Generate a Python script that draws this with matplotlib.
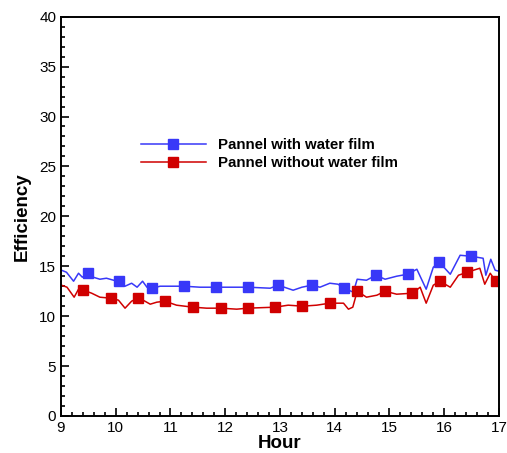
import numpy as np
import matplotlib
matplotlib.use("Agg")
import matplotlib.pyplot as plt
from matplotlib.ticker import MultipleLocator

plt.rcParams['font.family'] = ['Liberation Sans', 'DejaVu Sans']

# panel with water film
hour_wet = [9.01, 9.10, 9.23, 9.32, 9.39, 9.49, 9.59, 9.71, 9.83, 9.96, 10.06,
            10.17, 10.29, 10.39, 10.49, 10.57, 10.67, 10.81, 11.25, 11.54, 11.83,
            12.42, 12.82, 12.97, 13.24, 13.40, 13.58, 13.73, 13.91, 14.06, 14.17,
            14.34, 14.41, 14.58, 14.75, 14.92, 15.13, 15.33, 15.50, 15.67, 15.80,
            15.91, 16.11, 16.29, 16.49, 16.71, 16.76, 16.85, 16.93, 17.0]
eff_wet = [14.6, 14.4, 13.5, 14.3, 13.9, 14.3, 13.9, 13.7, 13.8, 13.6, 13.5,
           13.0, 13.3, 12.9, 13.5, 12.9, 12.8, 13.0, 13.0, 12.9, 12.9,
           12.9, 12.8, 13.1, 12.6, 12.9, 13.1, 12.9, 13.3, 13.2, 12.8,
           12.4, 13.7, 13.6, 14.1, 13.7, 14.0, 14.2, 14.7, 12.7, 14.9,
           15.4, 14.2, 16.1, 16.0, 15.8, 14.1, 15.7, 14.6, 14.5]
marks_wet = [5, 10, 16, 18, 20, 21, 23, 26, 30, 34, 37, 41, 44]

# panel without water film
hour_dry = [9.01, 9.11, 9.24, 9.32, 9.41, 9.56, 9.71, 9.91, 10.05, 10.17, 10.29,
            10.40, 10.50, 10.63, 10.75, 10.90, 11.11, 11.41, 11.66, 11.92, 12.21,
            12.41, 12.91, 13.15, 13.41, 13.67, 13.91, 14.16, 14.25, 14.33, 14.41,
            14.58, 14.77, 14.92, 15.13, 15.42, 15.56, 15.67, 15.80, 15.92, 16.11,
            16.26, 16.42, 16.65, 16.74, 16.84, 16.94, 17.0]
eff_dry = [13.1, 12.9, 11.9, 12.7, 12.6, 12.3, 11.9, 11.8, 11.6, 10.8, 11.5,
           11.8, 11.6, 11.2, 11.4, 11.5, 11.1, 10.9, 10.8, 10.8, 10.7,
           10.8, 10.9, 11.1, 11.0, 11.1, 11.3, 11.3, 10.7, 10.9, 12.5,
           11.9, 12.1, 12.5, 12.2, 12.3, 12.9, 11.3, 13.1, 13.5, 12.9,
           14.1, 14.4, 14.8, 13.2, 14.3, 13.5, 13.4]
marks_dry = [4, 7, 11, 15, 17, 19, 21, 22, 24, 26, 30, 33, 35, 39, 42, 46]

blue = '#3838f8'
red = '#d00000'

fig = plt.figure(figsize=(5.07, 4.53), dpi=100)
ax = fig.add_axes([0.1203, 0.0817, 0.8639, 0.8815])

ax.plot(hour_wet, eff_wet, color=blue, lw=1.1, marker='s', ms=6.5,
        markevery=marks_wet, label='Pannel with water film')
ax.plot(hour_dry, eff_dry, color=red, lw=1.1, marker='s', ms=6.5,
        markevery=marks_dry, label='Pannel without water film')

ax.set_xlim(9, 17)
ax.set_ylim(0, 40)
ax.xaxis.set_major_locator(MultipleLocator(1))
ax.xaxis.set_minor_locator(MultipleLocator(0.2))
ax.yaxis.set_major_locator(MultipleLocator(5))
ax.yaxis.set_minor_locator(MultipleLocator(1))
ax.tick_params(which='both', direction='in', top=False, right=False,
               labelsize=11, width=1.2)
ax.tick_params(which='major', length=6)
ax.tick_params(which='minor', length=3)
for s in ax.spines.values():
    s.set_linewidth(1.4)

ax.set_xlabel('Hour', fontsize=13.5, fontweight='bold', labelpad=0)
ax.set_ylabel('Efficiency', fontsize=13.5, fontweight='bold', labelpad=6)

leg = ax.legend(loc='upper left', bbox_to_anchor=(0.152, 0.73), frameon=False,
                prop={'size': 10.8, 'weight': 'bold'}, handlelength=4.3,
                handletextpad=0.8, labelspacing=0.3)

fig.savefig('out.png', dpi=100)
